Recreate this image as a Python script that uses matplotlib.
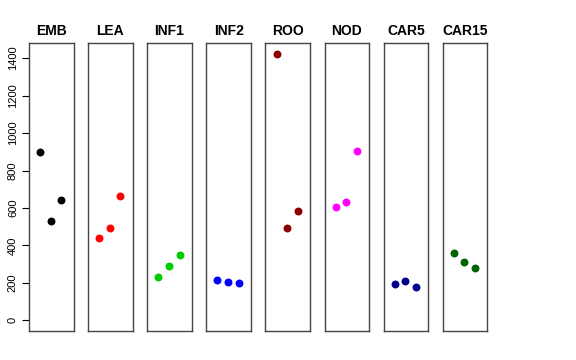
import matplotlib.pyplot as plt
import numpy as np

plt.rcParams['font.family'] = ['Liberation Sans', 'DejaVu Sans']

# Tejidos y valores
tejidos = ['EMB', 'LEA', 'INF1', 'INF2', 'ROO', 'NOD', 'CAR5', 'CAR15']
valores = [
    [898, 529, 641],
    [438, 492, 663],
    [230, 289, 347],
    [214, 203, 198],
    [1424, 492, 583],
    [604, 631, 906],
    [192, 208, 176],
    [358, 310, 278],
]
colores = ['black', 'red', '#00CD00', 'blue', '#8B0000', 'magenta', '#00008B', '#006400']
replicas = [1, 2, 3]

fig = plt.figure(figsize=(5.76, 3.6), dpi=100)

W, H = 576, 360
ymax = max(max(v) for v in valores)
pad = 0.04 * ymax

for i, (nombre, vals, col) in enumerate(zip(tejidos, valores, colores)):
    left = 29 + i * 59.1
    ax = fig.add_axes([left / W, (H - 331) / H, 44.5 / W, 288 / H])
    ax.scatter(replicas, vals, color=col, s=22, zorder=3)
    ax.set_xlim(-0.05, 4.15)
    ax.set_ylim(-pad, ymax + pad)
    ax.set_xticks([])
    for s in ax.spines.values():
        s.set_color('#444444')
        s.set_linewidth(1)
    ax.set_title(nombre, fontsize=10, fontweight='bold', pad=6)
    if i == 0:
        ax.set_yticks(np.arange(0, 1401, 200))
        ax.tick_params(axis='y', length=5, width=0.8, labelsize=8, pad=3)
        for t in ax.get_yticklabels():
            t.set_rotation(90)
            t.set_va('center')
    else:
        ax.set_yticks([])

fig.savefig('out.png', dpi=100)
